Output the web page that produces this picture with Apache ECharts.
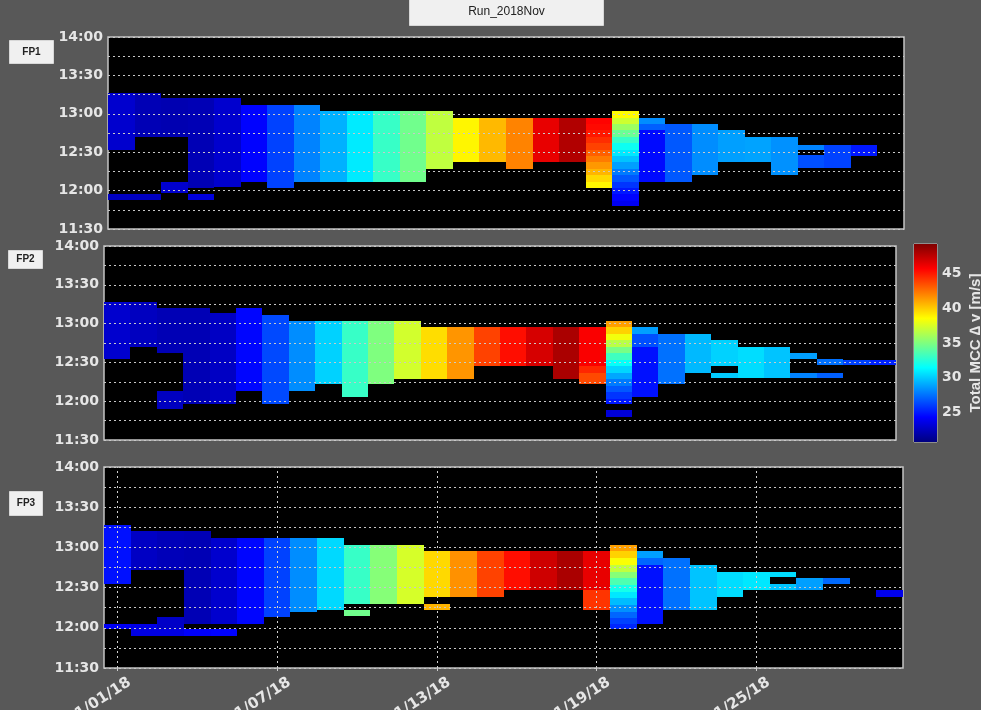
<!DOCTYPE html>
<html><head><meta charset="utf-8">
<script src="https://cdn.jsdelivr.net/npm/echarts@6/dist/echarts.min.js"></script>
<style>html,body{margin:0;padding:0;background:#585858;}#c{width:981px;height:710px;}</style>
</head><body><div id="c"></div>
<script>
// ---------- data ----------
const runTitle = 'Run_2018Nov';
const panelNames = ['FP1', 'FP2', 'FP3'];
const tickDays = [1, 7, 13, 19, 25];
const tickLabels = ['11/01/18', '11/07/18', '11/13/18', '11/19/18', '11/25/18'];
const colorbarTicks = [25, 30, 35, 40, 45];
const colorbarTitle = 'Total MCC \u2206 v [m/s]';
const valueMin = 20.8, valueMax = 49.2;
const dayMin = 0.5, dayMax = 30.5;
const timeMin = '11:30', timeMax = '14:00';

// [day of Nov, start time, end time, total MCC dv (m/s)]
const fp1 = [
  [1,'12:32','13:16',23.0],[1,'11:53','11:57',22.6],
  [2,'12:42','13:16',22.3],[2,'11:53','11:57',22.6],
  [3,'12:42','13:12',22.2],[3,'11:58','12:07',23.0],
  [4,'12:02','13:12',22.3],[4,'11:53','11:57',23.4],
  [5,'12:03','13:12',23.0],
  [6,'12:07','13:07',24.4],
  [7,'12:02','13:07',26.2],
  [8,'12:07','13:07',28.0],
  [9,'12:07','13:02',29.3],
  [10,'12:07','13:02',30.9],
  [11,'12:07','13:02',33.0],
  [12,'12:07','13:02',34.6],
  [13,'12:17','13:02',36.8],
  [14,'12:22','12:57',38.8],
  [15,'12:22','12:57',40.5],
  [16,'12:17','12:57',42.0],
  [17,'12:22','12:57',46.3],
  [18,'12:22','12:57',47.8],
  [19,'12:52','12:57',45.6],[19,'12:47','12:52',45.4],[19,'12:42','12:47',45.0],[19,'12:37','12:42',44.4],
  [19,'12:32','12:37',43.8],[19,'12:27','12:32',43.0],[19,'12:22','12:27',42.2],[19,'12:17','12:22',41.4],
  [19,'12:12','12:17',40.6],[19,'12:07','12:12',39.6],[19,'12:02','12:07',38.8],
  [20,'12:57','13:02',38.6],[20,'12:52','12:57',37.2],[20,'12:47','12:52',35.8],[20,'12:42','12:47',34.4],
  [20,'12:37','12:42',33.0],[20,'12:32','12:37',31.8],[20,'12:27','12:32',30.8],[20,'12:22','12:27',29.8],
  [20,'12:17','12:22',28.8],[20,'12:12','12:17',27.8],[20,'12:07','12:12',26.8],[20,'12:02','12:07',25.8],
  [20,'11:57','12:02',25.0],[20,'11:52','11:57',24.4],[20,'11:48','11:52',24.0],
  [21,'12:52','12:57',28.3],[21,'12:47','12:52',27.0],[21,'12:07','12:47',24.6],
  [22,'12:07','12:52',26.8],
  [23,'12:12','12:52',28.3],
  [24,'12:22','12:47',28.8],
  [25,'12:22','12:42',28.9],
  [26,'12:12','12:42',28.4],
  [27,'12:32','12:36',28.0],[27,'12:18','12:28',26.6],
  [28,'12:18','12:36',26.2],
  [29,'12:27','12:36',25.0]
];
const fp2 = [
  [1,'12:33','13:17',23.0],
  [2,'12:42','13:17',22.6],
  [3,'12:37','13:12',22.3],[3,'11:54','12:08',22.6],
  [4,'11:58','13:12',22.3],
  [5,'11:58','13:08',22.7],
  [6,'12:08','13:12',24.5],
  [7,'11:58','13:07',26.4],
  [8,'12:08','13:02',28.3],
  [9,'12:13','13:02',30.2],
  [10,'12:03','13:02',33.0],
  [11,'12:13','13:02',35.0],
  [12,'12:17','13:02',37.3],
  [13,'12:17','12:57',39.5],
  [14,'12:17','12:57',41.5],
  [15,'12:27','12:57',43.8],
  [16,'12:27','12:57',45.3],
  [17,'12:27','12:57',46.8],
  [18,'12:17','12:57',48.0],
  [19,'12:27','12:57',45.8],[19,'12:22','12:27',44.6],[19,'12:13','12:22',43.6],
  [20,'12:57','13:02',41.2],[20,'12:52','12:57',39.8],[20,'12:47','12:52',38.2],[20,'12:42','12:47',36.6],
  [20,'12:37','12:42',34.8],[20,'12:32','12:37',33.2],[20,'12:27','12:32',31.6],[20,'12:22','12:27',30.3],
  [20,'12:17','12:22',29.0],[20,'12:12','12:17',27.8],[20,'12:07','12:12',26.8],[20,'12:02','12:07',25.8],
  [20,'11:58','12:02',25.0],[20,'11:48','11:53',23.3],
  [21,'12:52','12:57',28.8],[21,'12:42','12:52',26.6],[21,'12:03','12:42',24.8],
  [22,'12:13','12:52',27.5],
  [23,'12:22','12:52',29.5],
  [24,'12:27','12:47',30.2],[24,'12:18','12:22',30.0],
  [25,'12:18','12:42',30.5],
  [26,'12:18','12:42',29.8],
  [27,'12:33','12:37',28.8],[27,'12:18','12:22',28.0],
  [28,'12:28','12:33',27.5],[28,'12:18','12:22',27.0],
  [29,'12:28','12:32',26.2],
  [30,'12:28','12:32',25.3]
];
const fp3 = [
  [1,'12:33','13:17',24.8],[1,'11:59','12:03',24.0],
  [2,'12:43','13:12',22.7],[2,'11:59','12:03',23.6],[2,'11:54','11:59',23.6],
  [3,'12:43','13:12',22.4],[3,'11:59','12:08',22.8],[3,'11:54','11:59',23.6],
  [4,'12:03','13:12',22.3],[4,'11:54','11:59',24.2],
  [5,'12:03','13:07',23.0],[5,'11:54','11:59',24.4],
  [6,'12:03','13:07',24.5],
  [7,'12:08','13:07',26.2],
  [8,'12:12','13:07',28.3],
  [9,'12:13','13:07',30.4],
  [10,'12:18','13:02',33.0],[10,'12:09','12:13',34.6],
  [11,'12:18','13:02',35.2],
  [12,'12:18','13:02',37.4],
  [13,'12:23','12:57',39.6],[13,'12:13','12:18',40.6],
  [14,'12:23','12:57',41.6],
  [15,'12:23','12:57',43.8],
  [16,'12:28','12:57',45.3],
  [17,'12:28','12:57',47.0],
  [18,'12:28','12:57',48.0],
  [19,'12:28','12:57',46.3],[19,'12:13','12:28',44.2],
  [20,'12:57','13:02',41.2],[20,'12:52','12:57',39.8],[20,'12:47','12:52',38.4],[20,'12:42','12:47',36.8],
  [20,'12:37','12:42',35.2],[20,'12:32','12:37',33.6],[20,'12:27','12:32',32.0],[20,'12:22','12:27',30.8],
  [20,'12:17','12:22',29.6],[20,'12:12','12:17',28.4],[20,'12:07','12:12',27.2],[20,'12:03','12:07',26.2],
  [20,'11:59','12:03',25.4],
  [21,'12:52','12:57',28.8],[21,'12:47','12:52',27.2],[21,'12:03','12:47',24.8],
  [22,'12:13','12:52',27.5],
  [23,'12:13','12:47',29.8],
  [24,'12:23','12:42',30.5],
  [25,'12:28','12:42',30.8],
  [26,'12:38','12:42',30.5],[26,'12:28','12:33',29.8],
  [27,'12:28','12:37',28.8],
  [28,'12:33','12:37',27.3],
  [30,'12:23','12:28',23.8]
];

// ---------- styles ----------
const jet = ['#00007f','#0000ff','#007fff','#00ffff','#7fff7f','#ffff00','#ff7f00','#ff0000','#7f0000'];
const bg = '#585858';
const txt = '#e6e6e6';
const FONT = 'DejaVu Sans';

function tm(s) { const p = s.split(':').map(Number); return p[0] * 60 + p[1]; }
function fmtTime(v) { const h = Math.floor(v / 60), m = v % 60; return h + ':' + (m < 10 ? '0' : '') + m; }
const toRows = arr => arr.map(r => [r[0], tm(r[1]), tm(r[2]), r[3]]);
const panels = [fp1, fp2, fp3].map(toRows);

const grids = [
  { left: 108, top: 37, width: 796, height: 192 },
  { left: 104, top: 246, width: 792, height: 194 },
  { left: 104, top: 467, width: 799, height: 201 },
  { left: 914, top: 244, width: 23, height: 198 }
].map((g, i) => Object.assign(g, {
  show: true, backgroundColor: i < 3 ? '#000' : 'transparent',
  borderColor: '#c4c4c4', borderWidth: i < 3 ? 1.5 : 1,
  containLabel: false, outerBoundsMode: 'none'
}));

const xAxes = [0, 1, 2].map(i => ({
  type: 'value', gridIndex: i, min: dayMin, max: dayMax, z: 4,
  axisLine: { show: false }, splitLine: { show: false },
  axisTick: i === 2 ? { show: true, customValues: tickDays, length: 3, lineStyle: { color: '#ccc' } } : { show: false },
  axisLabel: i === 2 ? {
    show: true, customValues: tickDays, rotate: 33, margin: 21,
    formatter: v => '{d|' + (tickLabels[tickDays.indexOf(Math.round(v))] || '') + '}',
    rich: { d: { width: 59, align: 'left', color: txt, fontWeight: 'bold', fontFamily: FONT, fontSize: 15 } },
    color: txt, fontWeight: 'bold', fontFamily: FONT, fontSize: 15
  } : { show: false }
}));
xAxes.push({ type: 'value', gridIndex: 3, min: 0, max: 1, show: false });

const yAxes = [0, 1, 2].map(i => ({
  type: 'value', gridIndex: i, min: tm(timeMin), max: tm(timeMax), interval: 15, z: 4,
  axisLine: { show: false }, axisTick: { show: false },
  axisLabel: {
    formatter: v => (v % 30 === 0 ? fmtTime(v) : ''), margin: 5,
    color: txt, fontWeight: 'bold', fontFamily: FONT, fontSize: 14
  },
  splitLine: { show: true, lineStyle: { color: '#c8c8c8', width: 1, type: [2, 3] } }
}));
yAxes.push({
  type: 'value', gridIndex: 3, min: valueMin, max: valueMax, position: 'right',
  axisLine: { show: false }, axisTick: { show: false }, splitLine: { show: false },
  axisLabel: { customValues: colorbarTicks, margin: 5, color: txt, fontWeight: 'bold', fontFamily: FONT, fontSize: 14 },
  name: colorbarTitle, nameLocation: 'middle', nameRotate: 90, nameGap: 31,
  nameTextStyle: { color: txt, fontWeight: 'bold', fontFamily: 'Liberation Sans', fontSize: 15 }
});

function renderCell(params, api) {
  const d = api.value(0), t0 = api.value(1), t1 = api.value(2);
  const a = api.coord([d - 0.5, t1]);
  const b = api.coord([d + 0.5, t0]);
  const x0 = Math.round(a[0]), x1 = Math.round(b[0]);
  const y0 = Math.round(a[1]), y1 = Math.round(b[1]);
  return { type: 'rect', shape: { x: x0, y: y0, width: x1 - x0, height: y1 - y0 },
    style: { fill: api.visual('color') } };
}

const series = panels.map((rows, i) => {
  const s = {
    type: 'custom', xAxisIndex: i, yAxisIndex: i, z: 2, data: rows,
    renderItem: renderCell, encode: { x: [0], y: [1, 2] }, clip: true
  };
  if (i === 2) {
    s.markLine = {
      silent: true, symbol: 'none', label: { show: false }, z: 5,
      lineStyle: { color: '#d0d0d0', width: 1, type: [2, 3] },
      data: tickDays.map(d => ({ xAxis: d }))
    };
  }
  return s;
});

series.push({
  type: 'custom', xAxisIndex: 3, yAxisIndex: 3, data: [[0, valueMin, valueMax]],
  renderItem: (params, api) => {
    const a = api.coord([0, api.value(2)]);
    const b = api.coord([1, api.value(1)]);
    return { type: 'rect', shape: { x: a[0], y: a[1], width: b[0] - a[0], height: b[1] - a[1] },
      style: { fill: new echarts.graphic.LinearGradient(0, 1, 0, 0,
        jet.map((c, k) => ({ offset: k / (jet.length - 1), color: c }))) } };
  }
});

function labelBox(x, y, w, h, text, fontSize, weight) {
  return { type: 'group', left: x, top: y, children: [
    { type: 'rect', shape: { x: 0, y: 0, width: w, height: h },
      style: { fill: '#f0f0f0', stroke: '#d8d8d8', lineWidth: 1 } },
    { type: 'text', x: w / 2, y: h / 2,
      style: { text: text, fill: '#222', font: weight + ' ' + fontSize + 'px "Liberation Sans"',
        textAlign: 'center', textVerticalAlign: 'middle' } }
  ] };
}

const chart = echarts.init(document.getElementById('c'));
chart.setOption({
  backgroundColor: bg,
  animation: false,
  grid: grids,
  xAxis: xAxes,
  yAxis: yAxes,
  visualMap: {
    type: 'continuous', show: false, min: valueMin, max: valueMax, dimension: 3,
    seriesIndex: [0, 1, 2], inRange: { color: jet }
  },
  series: series,
  graphic: [
    labelBox(409, -2, 194, 27, runTitle, 12, 'normal'),
    labelBox(9, 40, 44, 23, panelNames[0], 10, 'bold'),
    labelBox(8, 250, 34, 18, panelNames[1], 10, 'bold'),
    labelBox(9, 491, 33, 24, panelNames[2], 10, 'bold')
  ]
});
</script>
</body></html>
